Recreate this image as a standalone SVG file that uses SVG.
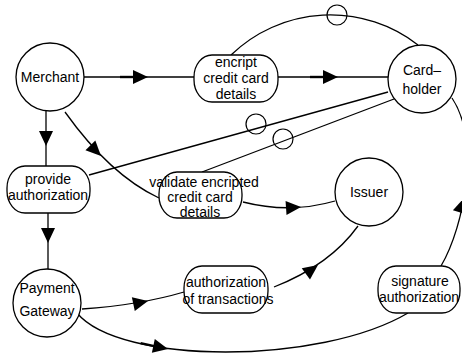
<svg xmlns="http://www.w3.org/2000/svg" xmlns:xlink="http://www.w3.org/1999/xlink" width="462" height="361" viewBox="0 0 462 361">
<style>
.n{fill:#fff;stroke:#000;stroke-width:1.3}
.e{fill:none;stroke:#000;stroke-width:1.3}
.t{font-family:"Liberation Sans",Arial,sans-serif;font-size:14px;fill:#000;text-anchor:middle}
.s{font-size:13px}
.o{fill:none;stroke:#000;stroke-width:1.2}
</style>
<defs>
<path id="ah" d="M0,0 L-15,-7 L-15,7 Z" fill="#000"/>
<g id="aht"><path d="M0,0 L-15,-7 L-15,7 Z" fill="#000"/><path d="M-28,0 H-14" stroke="#000" stroke-width="2.4"/></g>
</defs>
<rect width="462" height="361" fill="#fff"/>
<g id="connectors">
<path class="e" d="M84,77 H194"/>
<use xlink:href="#aht" transform="translate(148,77)"/>
<path class="e" d="M278,77 H388"/>
<use xlink:href="#aht" transform="translate(338,77)"/>
<path class="e" d="M231,55 A143,143 0 0 1 418,45"/>
<circle class="o" cx="337" cy="15" r="10"/>
<path class="e" d="M388,92 L89,175"/>
<circle class="o" cx="256" cy="124" r="10"/>
<path class="e" d="M394,99 L202,172"/>
<circle class="o" cx="283" cy="139" r="10"/>
<path class="e" d="M46,111 V166"/>
<use xlink:href="#ah" transform="translate(46,146) rotate(90)"/>
<path class="e" d="M65,112 Q110,175 159,198"/>
<use xlink:href="#ah" transform="translate(101,156) rotate(45)"/>
<path class="e" d="M48,213 V270"/>
<use xlink:href="#ah" transform="translate(48,243) rotate(90)"/>
<path class="e" d="M243,202 Q290,214 335,201"/>
<use xlink:href="#ah" transform="translate(301,207) rotate(-4)"/>
<path class="e" d="M82,309 Q140,305 184,292"/>
<use xlink:href="#ah" transform="translate(148,301) rotate(-12)"/>
<path class="e" d="M274,287 Q330,265 358,226"/>
<use xlink:href="#ah" transform="translate(318,265) rotate(-36)"/>
<path class="e" d="M77,313 C120,365 320,365 408,313"/>
<use xlink:href="#aht" transform="translate(168,349) rotate(12)"/>
<path class="e" d="M441,266 C465,225 480,140 452,98"/>
<use xlink:href="#ah" transform="translate(464,198) rotate(-73)"/>
</g>
<g id="merchant">
<circle class="n" cx="50" cy="77" r="34"/>
<text class="t" x="50" y="82">Merchant</text>
</g>
<g id="cardholder">
<circle class="n" cx="422" cy="79" r="34"/>
<text class="t" x="422" y="75">Card–</text>
<text class="t" x="422" y="94">holder</text>
</g>
<g id="issuer">
<circle class="n" cx="369" cy="192" r="34"/>
<text class="t" x="369" y="197">Issuer</text>
</g>
<g id="payment-gateway">
<circle class="n" cx="47" cy="303" r="34"/>
<text class="t" x="47" y="293">Payment</text>
<text class="t" x="47" y="316">Gateway</text>
</g>
<g id="encrypt">
<rect class="n" x="194" y="55" width="84" height="47" rx="18" ry="22"/>
<text class="t" x="236" y="67">encript</text>
<text class="t" x="236" y="83">credit card</text>
<text class="t" x="236" y="99">details</text>
</g>
<g id="validate">
<rect class="n" x="159" y="172" width="83" height="46" rx="18" ry="22"/>
<text class="t" x="204" y="187">validate encripted</text>
<text class="t" x="200" y="202">credit card</text>
<text class="t" x="200" y="217">details</text>
</g>
<g id="provide">
<rect class="n" x="7" y="166" width="83" height="47" rx="18" ry="22"/>
<text class="t" x="48" y="184">provide</text>
<text class="t" x="48" y="200">authorization</text>
</g>
<g id="authorization-transactions">
<rect class="n" x="184" y="266" width="84" height="47" rx="18" ry="22"/>
<text class="t" x="226" y="287">authorization</text>
<text class="t" x="228" y="304">of transactions</text>
</g>
<g id="signature">
<rect class="n" x="378" y="266" width="82" height="47" rx="18" ry="22"/>
<text class="t" x="420" y="286">signature</text>
<text class="t" x="419" y="302">authorization</text>
</g>
</svg>
